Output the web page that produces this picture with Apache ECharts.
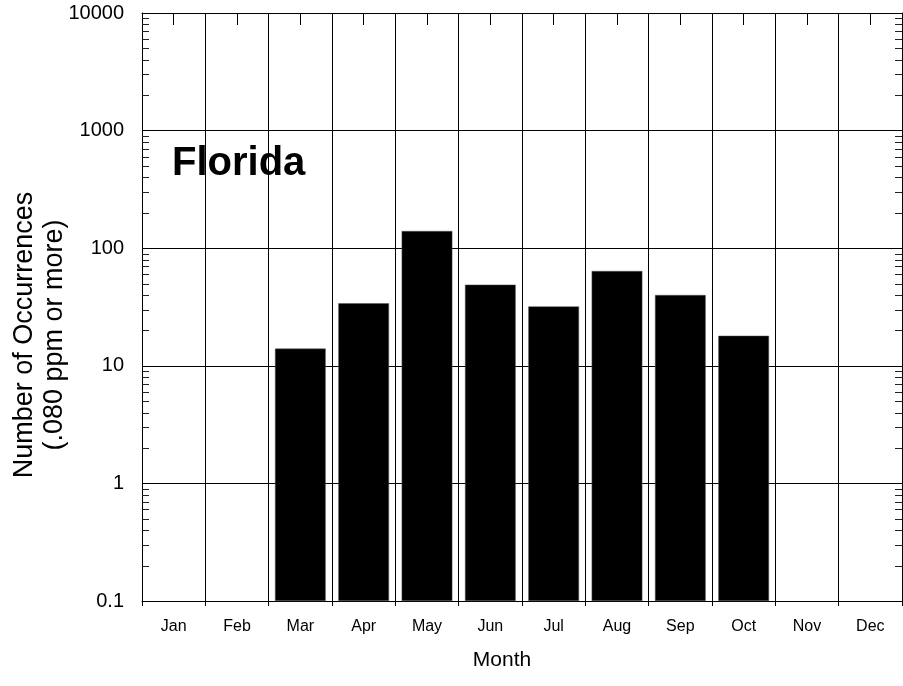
<!DOCTYPE html>
<html>
<head>
<meta charset="utf-8">
<script src="https://cdn.jsdelivr.net/npm/echarts@6/dist/echarts.min.js"></script>
<style>
html, body { margin: 0; padding: 0; background: #fff; }
#chart { width: 903px; height: 686px; }
</style>
</head>
<body>
<div id="chart"></div>
<script>
// monthly counts
const months = ['Jan', 'Feb', 'Mar', 'Apr', 'May', 'Jun', 'Jul', 'Aug', 'Sep', 'Oct', 'Nov', 'Dec'];
const counts = [null, null, 14, 34, 140, 49, 32, 64, 40, 18, null, null];
const decades = [0.1, 1, 10, 100, 1000];
const yLabels = ['0.1', '1', '10', '100', '1000', '10000'];

// minor tick positions 2..9 inside each decade
const minorTicks = [];
decades.forEach(function (d) {
	for (let k = 2; k <= 9; k++) {
		minorTicks.push([0, +(d * k).toPrecision(3)]);
	}
});

const font = 'Liberation Sans, Arial, Helvetica, sans-serif';
const chart = echarts.init(document.getElementById('chart'));

function minorTick(params, api) {
	const cs = params.coordSys;
	const y = Math.round(api.coord([0, api.value(1)])[1]) + 0.5;
	const st = { stroke: '#222', lineWidth: 1 };
	return {
		type: 'group',
		children: [
			{ type: 'line', shape: { x1: cs.x, y1: y, x2: cs.x + 7, y2: y }, style: st },
			{ type: 'line', shape: { x1: cs.x + cs.width - 7, y1: y, x2: cs.x + cs.width, y2: y }, style: st }
		]
	};
}

const option = {
	animation: false,
	backgroundColor: '#fff',
	textStyle: { fontFamily: font, color: '#000' },
	title: {
		text: 'Florida',
		left: 172,
		top: 144,
		padding: 0,
		textStyle: { fontFamily: font, fontSize: 40, fontWeight: 'bold', color: '#000' }
	},
	grid: { left: 142, right: 1, top: 13, bottom: 85, outerBoundsMode: 'none', containLabel: false },
	xAxis: [{
		type: 'category',
		data: months,
		position: 'bottom',
		name: 'Month',
		nameLocation: 'middle',
		nameGap: 49,
		nameMoveOverlap: false,
		nameTextStyle: { fontSize: 21, color: '#000', padding: [0, 40, 0, 0] },
		axisLine: { lineStyle: { color: '#000', width: 1 } },
		axisTick: { show: true, inside: false, length: 5, lineStyle: { color: '#000' } },
		axisLabel: { fontSize: 16, color: '#000', margin: 18 },
		splitLine: { show: true, lineStyle: { color: '#000', width: 1 } }
	}, {
		type: 'category',
		data: months,
		position: 'top',
		axisLine: { lineStyle: { color: '#000', width: 1 } },
		axisTick: { show: true, inside: true, alignWithLabel: true, length: 12, lineStyle: { color: '#000' } },
		axisLabel: { show: false }
	}],
	yAxis: [{
		type: 'log',
		logBase: 10,
		min: 0.1,
		max: 10000,
		startValue: 0.1,
		name: 'Number of Occurrences\n(.080 ppm or more)',
		nameLocation: 'middle',
		nameRotate: 90,
		nameGap: 72,
		nameMoveOverlap: false,
		nameTextStyle: { fontSize: 27, color: '#000', lineHeight: 30, padding: [0, 56, 0, 0] },
		axisLine: { show: true, lineStyle: { color: '#000', width: 1 } },
		axisTick: { show: true, inside: true, length: 12, lineStyle: { color: '#000' } },
		axisLabel: {
			fontSize: 20,
			color: '#000',
			margin: 18,
			formatter: function (v) {
				const s = String(+v.toPrecision(3));
				return yLabels.indexOf(s) >= 0 ? s : '';
			}
		},
		splitLine: { show: true, lineStyle: { color: '#000', width: 1 } }
	}, {
		type: 'log',
		logBase: 10,
		min: 0.1,
		max: 10000,
		position: 'right',
		axisLine: { show: true, lineStyle: { color: '#000', width: 1 } },
		axisTick: { show: true, inside: true, length: 12, lineStyle: { color: '#000' } },
		axisLabel: { show: false },
		splitLine: { show: false }
	}],
	series: [{
		type: 'bar',
		data: counts,
		barCategoryGap: '20%',
		itemStyle: { color: '#000', borderColor: '#555', borderWidth: 0.5 },
		z: 3
	}, {
		type: 'custom',
		data: minorTicks,
		encode: { x: 0, y: 1 },
		renderItem: minorTick,
		silent: true,
		z: 4
	}]
};
chart.setOption(option);
</script>
</body>
</html>
